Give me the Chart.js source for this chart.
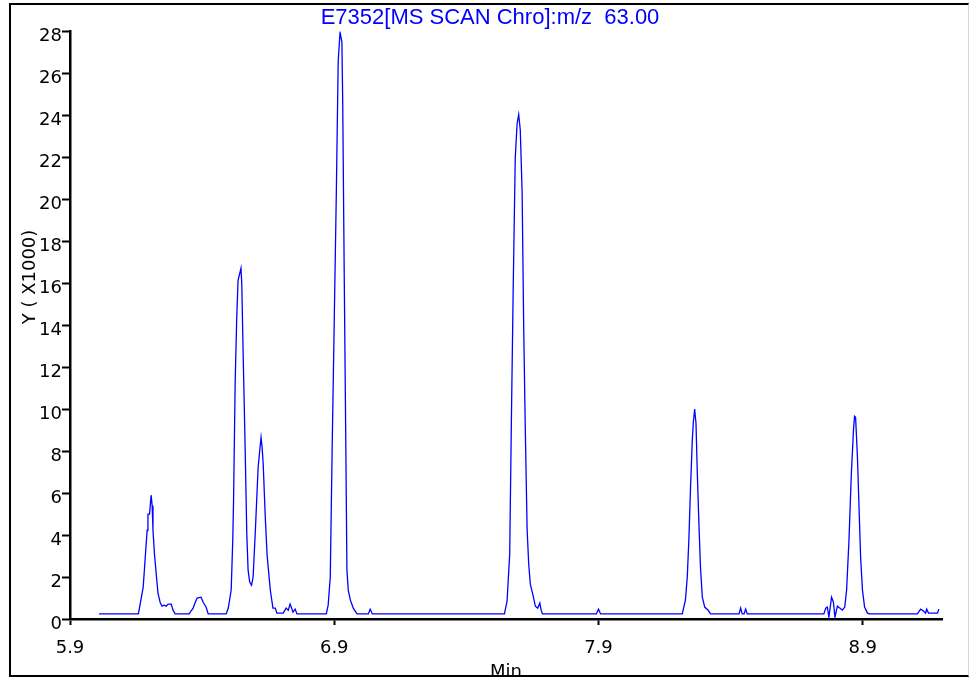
<!DOCTYPE html>
<html>
<head>
<meta charset="utf-8">
<script src="https://cdn.jsdelivr.net/npm/chart.js@4.4.1/dist/chart.umd.min.js"></script>
<style>
    html, body { margin: 0; padding: 0; background: #ffffff; }
    #wrap { position: relative; width: 969px; height: 677px; overflow: hidden; }
    #myChart { position: absolute; left: 0; top: 0; }
    #frame {
        position: absolute; left: 9px; top: 3px; width: 960px; height: 674px;
        box-sizing: border-box;
        border-top: 2px solid #000; border-left: 2px solid #000;
        border-bottom: 2px solid #000; border-right: 1px solid #d4d4d4;
        pointer-events: none;
    }
    #yTitle {
        position: absolute; left: 28px; top: 277px;
        transform: translate(-50%, -50%) rotate(-90deg);
        font: 18px 'DejaVu Sans'; color: #000; white-space: nowrap;
    }
</style>
</head>
<body>
<div id="wrap">
    <canvas id="myChart" width="969" height="677"></canvas>
    <div id="yTitle">Y ( X1000)</div>
    <div id="frame"></div>
</div>
<script>
// Chromatogram data: retention time (min) and intensity (x1000)
const times = [
    6.010, 6.159, 6.177, 6.184, 6.192, 6.195, 6.201, 6.207, 6.211, 6.214,
    6.220, 6.226, 6.233, 6.241, 6.248, 6.256, 6.264, 6.271, 6.283, 6.290,
    6.298, 6.351, 6.358, 6.366, 6.373, 6.381, 6.396, 6.404, 6.415, 6.423,
    6.491, 6.499, 6.510, 6.516, 6.519, 6.525, 6.531, 6.536, 6.547, 6.550,
    6.555, 6.563, 6.569, 6.574, 6.580, 6.587, 6.593, 6.601, 6.612, 6.620,
    6.623, 6.627, 6.631, 6.639, 6.646, 6.650, 6.658, 6.668, 6.677, 6.683,
    6.707, 6.718, 6.726, 6.733, 6.744, 6.752, 6.759, 6.870, 6.877, 6.885,
    6.892, 6.900, 6.908, 6.915, 6.922, 6.929, 6.932, 6.938, 6.944, 6.948,
    6.953, 6.961, 6.972, 6.986, 7.029, 7.036, 7.044, 7.544, 7.554, 7.564,
    7.570, 7.577, 7.585, 7.592, 7.598, 7.604, 7.611, 7.617, 7.623, 7.630,
    7.636, 7.642, 7.653, 7.661, 7.670, 7.678, 7.683, 7.688, 7.892, 7.900,
    7.908, 8.217, 8.229, 8.236, 8.242, 8.248, 8.255, 8.259, 8.264, 8.269,
    8.274, 8.280, 8.286, 8.293, 8.302, 8.315, 8.324, 8.432, 8.438, 8.444,
    8.451, 8.457, 8.463, 8.753, 8.760, 8.766, 8.772, 8.782, 8.789, 8.795,
    8.804, 8.813, 8.823, 8.832, 8.839, 8.848, 8.857, 8.865, 8.869, 8.873,
    8.880, 8.886, 8.892, 8.899, 8.907, 8.918, 8.926, 9.107, 9.119, 9.130,
    9.138, 9.142, 9.149, 9.183, 9.188
];
const intensities = [
    0.24, 0.24, 1.52, 2.80, 4.23, 5.00, 5.00, 5.90, 5.40, 4.23,
    3.04, 2.19, 1.23, 0.80, 0.61, 0.66, 0.61, 0.71, 0.71, 0.42,
    0.24, 0.24, 0.38, 0.52, 0.76, 1.00, 1.04, 0.80, 0.57, 0.24,
    0.24, 0.52, 1.38, 3.76, 5.66, 11.23, 14.38, 16.14, 16.71, 16.00,
    12.80, 8.04, 4.09, 2.33, 1.76, 1.61, 2.00, 4.09, 7.23, 8.28,
    8.66, 8.19, 7.42, 4.85, 3.04, 2.47, 1.38, 0.52, 0.52, 0.28,
    0.28, 0.52, 0.42, 0.71, 0.33, 0.47, 0.24, 0.24, 0.66, 2.00,
    8.04, 14.20, 20.40, 26.60, 27.95, 27.50, 24.70, 16.10, 8.00, 2.33,
    1.38, 0.90, 0.52, 0.24, 0.24, 0.47, 0.24, 0.24, 0.85, 3.09,
    9.07, 15.52, 21.95, 23.60, 24.04, 23.30, 20.35, 13.90, 9.07, 4.23,
    2.61, 1.66, 1.09, 0.61, 0.52, 0.76, 0.42, 0.24, 0.24, 0.47,
    0.24, 0.24, 0.90, 2.00, 3.76, 6.14, 8.52, 9.39, 10.00, 9.33,
    6.95, 4.57, 2.47, 1.04, 0.57, 0.42, 0.24, 0.24, 0.52, 0.24,
    0.24, 0.47, 0.24, 0.24, 0.52, 0.57, 0.09, 1.04, 0.80, 0.09,
    0.61, 0.52, 0.42, 0.57, 1.38, 3.76, 6.95, 9.00, 9.66, 9.61,
    7.71, 5.33, 2.95, 1.38, 0.57, 0.28, 0.24, 0.24, 0.47, 0.38,
    0.28, 0.47, 0.28, 0.28, 0.47
];

// Axis ticks
const xTicks = [5.9, 6.9, 7.9, 8.9];
const xMin = 5.9;
const xMax = 9.2;
const yMin = 0;
const yMax = 28;
const yStep = 2;

const ctx = document.getElementById('myChart').getContext('2d');

new Chart(ctx, {
    type: 'line',
    data: {
        datasets: [{
            label: 'm/z 63.00',
            data: times.map((t, i) => ({ x: t, y: intensities[i] })),
            borderColor: '#0000ff',
            borderWidth: 1.3,
            pointRadius: 0,
            tension: 0,
            fill: false
        }]
    },
    options: {
        responsive: false,
        animation: false,
        layout: {
            // left padding shifts the title centre; the y scale is narrowed to match
            padding: { left: 38, right: 27, top: 0, bottom: 0 }
        },
        scales: {
            x: {
                type: 'linear',
                min: xMin,
                max: xMax,
                afterBuildTicks: scale => {
                    scale.ticks = xTicks.map(v => ({ value: v }));
                },
                afterFit: scale => {
                    scale.height = 58;
                },
                ticks: {
                    color: '#000',
                    padding: 13,
                    maxRotation: 0,
                    font: { family: 'DejaVu Sans', size: 18 },
                    callback: value => value.toFixed(1)
                },
                grid: {
                    drawOnChartArea: false,
                    drawTicks: true,
                    tickLength: 6,
                    tickColor: '#000',
                    tickWidth: 2
                },
                border: { display: true, color: '#000', width: 2.5 },
                title: {
                    display: true,
                    text: 'Min',
                    color: '#000',
                    font: { family: 'DejaVu Sans', size: 18 },
                    padding: { top: 0, bottom: -6 }
                }
            },
            y: {
                min: yMin,
                max: yMax,
                afterFit: scale => {
                    scale.width = 32;
                },
                ticks: {
                    stepSize: yStep,
                    color: '#000',
                    padding: 0,
                    labelOffset: 5,
                    font: { family: 'DejaVu Sans', size: 18 }
                },
                grid: {
                    drawOnChartArea: false,
                    drawTicks: true,
                    tickLength: 8,
                    tickColor: '#000',
                    tickWidth: 2
                },
                border: { display: true, color: '#000', width: 2.5 }
            }
        },
        plugins: {
            legend: { display: false },
            tooltip: { enabled: false },
            title: {
                display: true,
                text: 'E7352[MS SCAN Chro]:m/z  63.00',
                color: '#0000ff',
                font: { family: 'Liberation Sans', size: 22, weight: 'normal' },
                padding: { top: 5, bottom: 0 }
            }
        }
    }
});
</script>
</body>
</html>
